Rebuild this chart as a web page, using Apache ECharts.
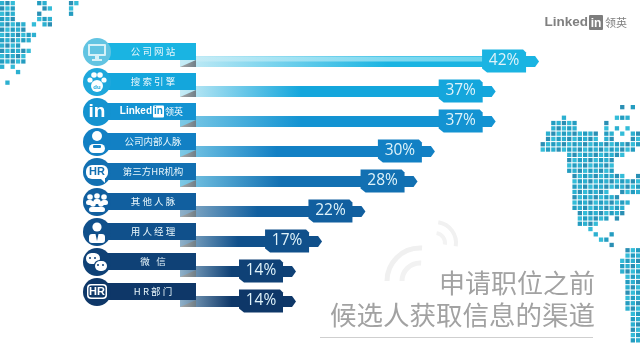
<!DOCTYPE html>
<html><head><meta charset="utf-8">
<style>html,body{margin:0;padding:0;background:#fff}#c{width:640px;height:360px}</style>
<script src="https://cdn.jsdelivr.net/npm/echarts@6/dist/echarts.min.js"></script>
</head><body><div id="c"></div>
<script>
const categories = ['公 司 网 站','搜 索 引 擎','Linkedin领英','公司内部人脉','第三方HR机构','其 他 人 脉','用 人 经 理','微   信','H R 部 门'];
const values = [42,37,37,30,28,22,17,14,14];
const rowColors = ['#1ab4e2','#14a6dc','#1393d2','#1280c4','#1270b2','#115f9f','#10508b','#0f4176','#0e3768'];
const circleColors = ['#62c4e2','#1fa8dc','#1493d0','#1280c4','#1270b2','#115f9f','#10508b','#0f4176','#0e3768'];
const fadeStops = [0.6,0.4,0.4,0.4,0.45,0.45,0.45,0.5,0.5];
const iconKinds = ['monitor','paw','in','person','hrBubble','group','manager','wechat','hrBox'];
const titleLines = ['申请职位之前','候选人获取信息的渠道'];

// decorative dot-map spans, [row, from, to) on a 5.3 px grid
const mapRight = [[0,17,18],[0,19,20],[2,6,7],[2,16,19],[3,4,9],[3,14,15],[4,4,9],[4,14,15],[4,16,17],[4,18,19],[5,3,13],[5,14,16],[5,17,18],[5,19,21],[6,3,13],[6,14,16],[6,19,21],[7,2,21],[8,2,20],[9,7,18],[10,7,16],[11,7,16],[12,7,16],[13,8,18],[13,20,21],[14,8,21],[15,8,21],[16,8,15],[16,17,21],[17,8,17],[18,8,19],[19,8,18],[20,9,18],[21,9,15],[21,16,17],[22,9,13],[23,11,12],[24,12,13],[24,15,16],[25,13,15],[26,15,16],[27,18,21],[28,18,21],[29,17,21],[30,17,21],[31,17,21],[32,18,21],[33,18,21],[34,18,21],[35,18,21],[36,18,21],[37,18,21],[38,18,21],[39,19,21],[40,19,21],[41,19,21],[42,19,21],[43,19,21],[44,19,21]];
const mapLeft = [[0,0,3],[0,7,9],[0,13,15],[1,0,3],[1,8,10],[1,13,14],[2,0,3],[2,7,8],[2,13,14],[3,0,3],[3,7,8],[3,8,10],[4,0,5],[4,6,7],[4,8,10],[5,0,5],[6,0,7],[7,0,6],[8,0,4],[9,0,6],[10,0,5],[11,0,5],[12,0,1],[12,2,3],[13,3,4],[15,1,2]];

function dots(spans, ox, oy, shade) {
  const out = [];
  spans.forEach(([r, a, b]) => {
    for (let k = a; k < b; k++) {
      out.push({type:'rect', silent:true, z:0,
        shape:{x:ox + k*5.3, y:oy + r*5.3, width:4.3, height:4.3},
        style:{fill: shade(k, r)}});
    }
  });
  return out;
}

function icon(kind, cx, cy, col) {
  const W = '#ffffff';
  const c = (x,y,r,f) => ({type:'circle', shape:{cx:cx+x, cy:cy+y, r}, style:{fill:f||W}});
  const rr = (x,y,w,h,f,r) => ({type:'rect', shape:{x:cx+x, y:cy+y, width:w, height:h, r:r||0}, style:{fill:f||W}});
  const t = (x,y,s,font,f) => ({type:'text', style:{x:cx+x, y:cy+y, text:s, font, fill:f||W, align:'center', verticalAlign:'middle'}});
  switch (kind) {
    case 'monitor': return [rr(-9,-8,18,12,'#d6f1f8',1), rr(-7,-6,14,8,col), rr(-2,4,4,3,'#d6f1f8'), rr(-5,7,10,2,'#d6f1f8')];
    case 'paw': return [c(-7,-2,2.6),c(-3,-7,2.8),c(3,-7,2.8),c(7,-2,2.6),c(0,4,6),t(0,5,'du','bold 6px "Liberation Sans"',col)];
    case 'in': return [t(0,0,'in','bold 19px "Liberation Sans"')];
    case 'person': return [c(0,-6,5), rr(-8,2,16,9,W,5), rr(-4,3,8,3,col,1)];
    case 'hrBubble': return [rr(-11,-7,22,14,W,6), {type:'polygon',shape:{points:[[cx+3,cy+6],[cx+8,cy+11],[cx+8,cy+6]]},style:{fill:W}}, t(0,0,'HR','bold 11px "Liberation Sans"',col)];
    case 'group': return [c(-7,-5,2.8),c(0,-6,2.8),c(7,-5,2.8),rr(-11,-2,7,5,W,2.5),rr(-3.5,-3,7,5,W,2.5),rr(4,-2,7,5,W,2.5),c(-4,2,2.8),c(4,2,2.8),rr(-8,5,16,5,W,2.5)];
    case 'manager': return [c(0,-5,4.6), rr(-8,2,16,9,W,3), {type:'polygon',shape:{points:[[cx-1.5,cy+2],[cx+1.5,cy+2],[cx,cy+9]]},style:{fill:col}}];
    case 'wechat': return [rr(-11,-9,14,11,W,5.5), rr(-3,-2,14,11,col,5.5), rr(-2,-1,12,10,W,5), c(-7,-4,1,col),c(-2,-4,1,col),c(1,3,1,col),c(6,3,1,col)];
    case 'hrBox': return [rr(-10,-8,20,15,W,4), rr(-8.5,-6.5,17,12,col,3), t(0,-0.5,'HR','bold 11px "Liberation Sans"')];
  }
  return [];
}

function renderRow(params, api) {
  const i = params.dataIndex;
  const p = api.coord([api.value(0), api.value(1)]);
  const tip = p[0], cy = p[1];
  const col = rowColors[i];
  const kids = [];
  const top = cy - 5.5, bot = cy + 5.5;
  kids.push({type:'rect', shape:{x:180, y:top, width:tip-13-180, height:11},
    style:{fill:{type:'linear', x:0,y:0,x2:1,y2:0, colorStops:[
      {offset:0, color:i<2?'#c6ecf6':(i<5?'#7cc9e6':'#8fb0c8')},{offset:fadeStops[i], color:col},{offset:1, color:col}]}}});
  if (i === 0) kids.push({type:'rect', shape:{x:196, y:top+0.5, width:tip-13-196, height:5},
    style:{fill:{type:'linear',x:0,y:0,x2:1,y2:0,colorStops:[{offset:0,color:'#c6ecf6'},{offset:1,color:'#6fd8f0'}]}, opacity:0.85}});
  kids.push({type:'polygon', shape:{points:[[180,bot],[196,bot-7],[196,bot]]},
    style:{fill:{type:'linear',x:0,y:0,x2:1,y2:0,colorStops:[{offset:0,color:'#a9a9a9'},{offset:1,color:'#6f7f88'}]}}});
  kids.push({type:'polygon', shape:{points:[[tip-16,cy-5.5],[tip-4,cy-5.5],[tip,cy],[tip-4,cy+5.5],[tip-16,cy+5.5]]}, style:{fill:col}});
  const bl = tip-57, br = tip-13;
  kids.push({type:'polygon', shape:{points:[[bl,cy-12],[br-3,cy-12],[br,cy-9],[br,cy+11],[bl+5,cy+11],[bl,cy+7]]}, style:{fill:col}});
  kids.push({type:'text', style:{x:(bl+br)/2, y:cy-0.5, text:values[i]+'%', font:'15.5px "Open Sans"', fill:'#dff3fa', align:'center', verticalAlign:'middle'}});
  const ty = cy - 18.5;
  kids.push({type:'rect', shape:{x:100, y:ty, width:96, height:17}, style:{fill:col}});
  const lx = 153, ly = ty + 8.5;
  if (i === 2) {
    kids.push({type:'text', style:{x:152, y:ly, text:'Linked', font:'bold 10px "Liberation Sans"', fill:'#fff', align:'right', verticalAlign:'middle'}});
    kids.push({type:'rect', shape:{x:153, y:ly-6, width:11, height:12, r:1}, style:{fill:'#fff'}});
    kids.push({type:'text', style:{x:158.5, y:ly, text:'in', font:'bold 10px "Liberation Sans"', fill:col, align:'center', verticalAlign:'middle'}});
    kids.push({type:'text', style:{x:165, y:ly, text:'领英', font:'9px "Noto Sans CJK SC"', fill:'#fff', align:'left', verticalAlign:'middle'}});
  } else {
    kids.push({type:'text', style:{x:lx, y:ly, text:categories[i], font:'9.5px "Noto Sans CJK SC"', fill:'#e8f6fb', align:'center', verticalAlign:'middle'}});
  }
  const ccy = ty + 9;
  kids.push({type:'circle', shape:{cx:97, cy:ccy, r:14}, style:{fill:circleColors[i]}});
  icon(iconKinds[i], 97, ccy, circleColors[i]).forEach(k => kids.push(k));
  return {type:'group', children:kids};
}

const cyanDot = (k, r) => ['#2cb0d0','#249cc0','#34bcd8','#2a8fb4'][(k*3 + r*7) % 4];
const arc = (cx, cy, r, a, b, w, color) => ({type:'arc', silent:true, shape:{cx, cy, r, startAngle:Math.PI*a, endAngle:Math.PI*b}, style:{stroke:color, lineWidth:w, fill:null}});
const label = (x, y, text, font, fill, align) => ({type:'text', silent:true, style:{x, y, text, font, fill, align, verticalAlign:'middle'}});
const graphic = [
  ...dots(mapLeft, 0, 1, cyanDot),
  ...dots(mapRight, 530, 105, cyanDot),
  arc(420, 281, 33, 1.0, 1.52, 5, '#f0f0f0'),
  arc(420, 281, 18, 1.0, 1.52, 5, '#f2f2f2'),
  arc(435, 243, 21, 1.55, 2.05, 4, '#f1f1f1'),
  arc(435, 243, 10, 1.55, 2.05, 4, '#f3f3f3'),
  label(595, 283, titleLines[0], '26px "Noto Sans CJK SC"', '#a2a2a2', 'right'),
  label(595, 315, titleLines[1], '26.5px "Noto Sans CJK SC"', '#a2a2a2', 'right'),
  {type:'line', silent:true, shape:{x1:320, y1:337.5, x2:593, y2:337.5}, style:{stroke:'#cfcfcf', lineWidth:1}},
  label(588, 22.5, 'Linked', 'bold 13.5px "Liberation Sans"', '#808080', 'right'),
  {type:'rect', silent:true, shape:{x:589, y:15, width:14, height:15, r:1}, style:{fill:'#7d7d7d'}},
  label(596, 23.5, 'in', 'bold 12px "Liberation Sans"', '#fff', 'center'),
  label(605, 22.5, '领英', '11px "Noto Sans CJK SC"', '#808080', 'left')
];

const chart = echarts.init(document.getElementById('c'), null, {renderer:'canvas'});
chart.setOption({
  animation:false,
  backgroundColor:'#ffffff',
  graphic,
  grid:{left:174.5, top:46.5, width:434, height:270},
  xAxis:{type:'value', min:0, max:50, show:false},
  yAxis:{type:'category', inverse:true, data:categories, show:false},
  series:[{type:'custom', renderItem:renderRow, coordinateSystem:'cartesian2d', clip:false,
    encode:{x:0, y:1}, data:values.map((v,i)=>[v,i])}]
});
</script></body></html>
